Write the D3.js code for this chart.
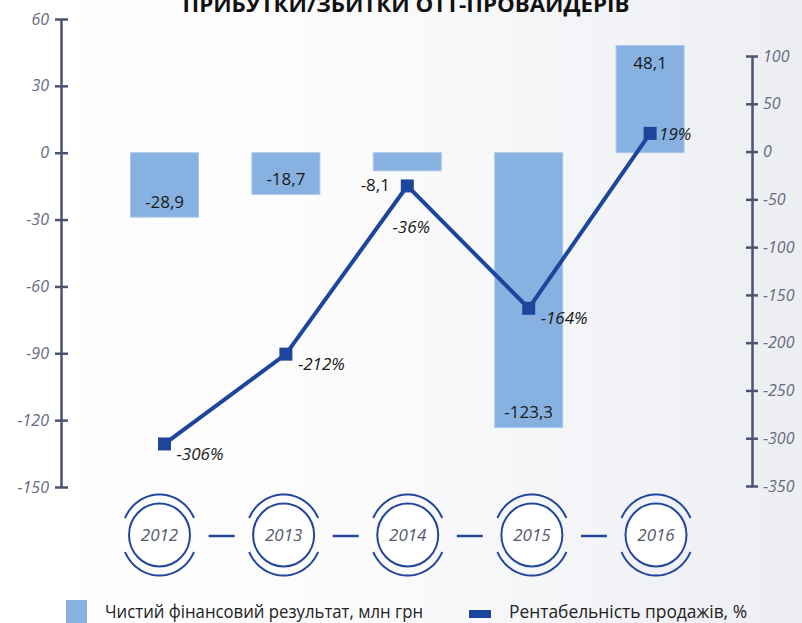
<!DOCTYPE html>
<html>
<head>
<meta charset="utf-8">
<script src="https://cdn.jsdelivr.net/npm/d3@7"></script>
<style>
  html, body { margin: 0; padding: 0; }
  body { width: 802px; height: 623px; overflow: hidden; }
  svg { display: block; }
</style>
</head>
<body>
<svg id="chart" width="802" height="623"></svg>
<script>
// ---- data ----
const years = ["2012", "2013", "2014", "2015", "2016"];
const netResult = [-28.9, -18.7, -8.1, -123.3, 48.1];          // млн грн
const profitability = [-306, -212, -36, -164, 19];               // %
const leftTicks = [60, 30, 0, -30, -60, -90, -120, -150];
const rightTicks = [100, 50, 0, -50, -100, -150, -200, -250, -300, -350];
const title = "ПРИБУТКИ/ЗБИТКИ OTT-ПРОВАЙДЕРІВ";
const legendLabels = ["Чистий фінансовий результат, млн грн", "Рентабельність продажів, %"];

// ---- styling ----
const barColor = "#87b1e0";
const lineColor = "#1c469c";
const axisColor = "#4b5370";
const tickTextColor = "#666b80";
const font = "'Open Sans', 'Noto Sans', sans-serif";
const hyphen = s => String(s).replace(/\u2212/g, "-");

const svg = d3.select("#chart");

// background gradient
const defs = svg.append("defs");
const grad = defs.append("linearGradient").attr("id", "bg").attr("x1", "0").attr("x2", "1").attr("y1", "0").attr("y2", "0");
grad.append("stop").attr("offset", "0%").attr("stop-color", "#ffffff");
grad.append("stop").attr("offset", "45%").attr("stop-color", "#fbfbfc");
grad.append("stop").attr("offset", "100%").attr("stop-color", "#eceef2");
svg.append("rect").attr("width", 802).attr("height", 623).attr("fill", "url(#bg)");

// scales
const x = d3.scaleBand().domain(years).range([103.8, 710.8]).paddingInner(0.44).paddingOuter(0.22);
const yL = d3.scaleLinear().domain([-150, 60]).range([487, 19]);
const yR = d3.scaleLinear().domain([-350, 100]).range([486, 56]);
const xc = d3.scalePoint().domain(years).range([159.5, 656]);

// title (partly cut off at the top, as in the reference)
svg.append("text")
  .attr("x", 406).attr("y", 12)
  .attr("text-anchor", "middle")
  .attr("font-family", font).attr("font-weight", 700).attr("font-size", 22)
  .attr("fill", "#111")
  .attr("textLength", 447).attr("lengthAdjust", "spacingAndGlyphs")
  .text(title);

// bars
const bars = svg.append("g");
bars.selectAll("rect").data(netResult).join("rect")
  .attr("x", (d, i) => x(years[i]))
  .attr("width", x.bandwidth())
  .attr("y", d => yL(Math.max(0, d)))
  .attr("height", d => Math.abs(yL(d) - yL(0)))
  .attr("fill", barColor)
  .attr("stroke", "#a9c8ea").attr("stroke-width", 1);

// bar labels
bars.selectAll("text").data(netResult).join("text")
  .attr("font-family", font).attr("font-size", 17).attr("fill", "#1a1a1a")
  .attr("text-anchor", "middle")
  .attr("x", (d, i) => {
    const h = Math.abs(yL(d) - yL(0));
    return x(years[i]) + x.bandwidth() / 2 - (h < 30 ? 32 : 0);
  })
  .attr("y", (d, i) => {
    const h = Math.abs(yL(d) - yL(0));
    if (d >= 0) return yL(d) + 23;
    if (h < 30) return yL(d) + 20;
    return yL(d) - 9;
  })
  .text(d => hyphen(d3.format(".1f")(d)).replace(".", ","));

// left axis
const gL = svg.append("g").attr("transform", "translate(61,0)");
gL.call(d3.axisLeft(yL).tickValues(leftTicks).tickFormat(d => hyphen(d)).tickSize(0).tickPadding(12));
gL.select(".domain").attr("stroke", axisColor).attr("stroke-width", 2.5);
gL.selectAll(".tick line").remove();
gL.selectAll(".tick").append("line").attr("x1", -6).attr("x2", 7).attr("stroke", axisColor).attr("stroke-width", 2.5);
gL.selectAll(".tick text").attr("font-family", font).attr("font-style", "italic").attr("font-size", 16).attr("fill", tickTextColor);

// right axis
const gR = svg.append("g").attr("transform", "translate(752,0)");
gR.call(d3.axisRight(yR).tickValues(rightTicks).tickFormat(d => hyphen(d)).tickSize(0).tickPadding(11));
gR.select(".domain").attr("stroke", axisColor).attr("stroke-width", 2.5);
gR.selectAll(".tick line").remove();
gR.selectAll(".tick").append("line").attr("x1", -6).attr("x2", 6).attr("stroke", axisColor).attr("stroke-width", 2.5);
gR.selectAll(".tick text").attr("font-family", font).attr("font-style", "italic").attr("font-size", 16).attr("fill", tickTextColor);

// line
const pts = profitability.map((v, i) => [x(years[i]) + x.bandwidth() / 2, yR(v)]);
svg.append("path")
  .attr("d", d3.line()(pts))
  .attr("fill", "none").attr("stroke", lineColor).attr("stroke-width", 4).attr("stroke-linejoin", "miter");
svg.append("g").selectAll("rect").data(pts).join("rect")
  .attr("x", p => p[0] - 6.5).attr("y", p => p[1] - 6.5)
  .attr("width", 13).attr("height", 13).attr("fill", lineColor);

// line labels
svg.append("g").selectAll("text").data(profitability).join("text")
  .attr("font-family", font).attr("font-style", "italic").attr("font-size", 17).attr("fill", "#1a1a1a")
  .each(function (v, i) {
    const [px, py] = pts[i];
    const isPeak = i > 0 && i < profitability.length - 1 && v > profitability[i - 1] && v > profitability[i + 1];
    const isLast = i === profitability.length - 1;
    const t = d3.select(this);
    if (isPeak) t.attr("text-anchor", "middle").attr("x", px + 4).attr("y", py + 47);
    else if (isLast) t.attr("text-anchor", "start").attr("x", px + 9).attr("y", py + 7);
    else t.attr("text-anchor", "start").attr("x", px + 12).attr("y", py + 16);
  })
  .text(v => hyphen(v) + "%");

// year badges
const badges = svg.append("g");
const cy = 535;
years.forEach((yr, i) => {
  const cx = xc(yr);
  const g = badges.append("g").attr("transform", `translate(${cx},${cy})`);
  g.append("ellipse").attr("rx", 30.5).attr("ry", 31.5).attr("fill", "#ffffff").attr("stroke", "#23479a").attr("stroke-width", 2);
  const a0 = Math.asin(17 / 40.5);
  const rx = 38, ry = 40.5;
  const arcPath = (s, e) => {
    const p = [];
    for (let k = 0; k <= 40; k++) {
      const t = s + (e - s) * k / 40;
      p.push([rx * Math.cos(t), ry * Math.sin(t)]);
    }
    return d3.line()(p);
  };
  g.append("path").attr("d", arcPath(Math.PI + a0, 2 * Math.PI - a0)).attr("fill", "none").attr("stroke", "#23479a").attr("stroke-width", 2);
  g.append("path").attr("d", arcPath(a0, Math.PI - a0)).attr("fill", "none").attr("stroke", "#23479a").attr("stroke-width", 2);
  g.append("text").attr("text-anchor", "middle").attr("y", 6)
    .attr("font-family", font).attr("font-style", "italic").attr("font-size", 17).attr("fill", "#555a6e")
    .text(yr);
  if (i < years.length - 1) {
    const mid = (xc(yr) + xc(years[i + 1])) / 2;
    badges.append("line").attr("x1", mid - 13).attr("x2", mid + 13).attr("y1", cy + 1).attr("y2", cy + 1)
      .attr("stroke", "#23479a").attr("stroke-width", 2.5);
  }
});

// legend
const lg = svg.append("g");
lg.append("rect").attr("x", 66).attr("y", 600).attr("width", 21).attr("height", 23).attr("fill", barColor);
lg.append("text").attr("x", 105).attr("y", 618)
  .attr("font-family", font).attr("font-size", 18).attr("fill", "#222")
  .attr("textLength", 318).attr("lengthAdjust", "spacingAndGlyphs")
  .text(legendLabels[0]);
lg.append("rect").attr("x", 469).attr("y", 610).attr("width", 22).attr("height", 8).attr("fill", lineColor);
lg.append("text").attr("x", 509).attr("y", 618)
  .attr("font-family", font).attr("font-size", 18).attr("fill", "#222")
  .attr("textLength", 238).attr("lengthAdjust", "spacingAndGlyphs")
  .text(legendLabels[1]);
</script>
</body>
</html>
